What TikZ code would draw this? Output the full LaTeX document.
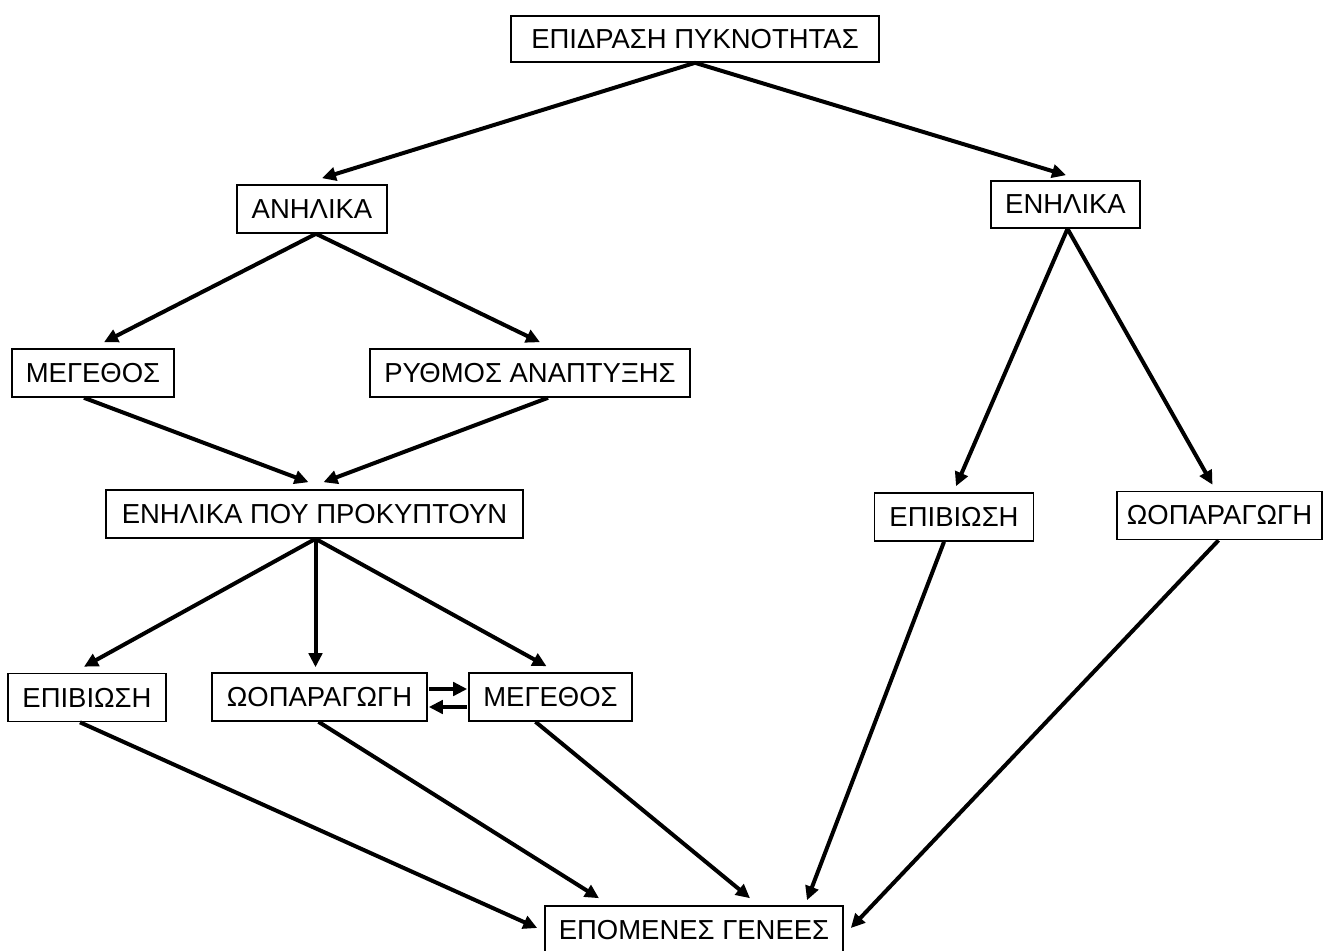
\documentclass[tikz,border=0pt]{standalone}
\usepackage{fontspec}
\setmainfont{Liberation Sans}
\usetikzlibrary{arrows.meta,calc}
\tikzset{
  box/.style={draw=black,line width=1.2pt,fill=white,minimum height=36pt,inner sep=2pt,font=\fontsize{20.6}{24}\selectfont},
  arr/.style={line width=3pt,-{Triangle[length=10.5pt,width=10pt]}},
}
\begin{document}
\begin{tikzpicture}[x=0.75pt,y=-0.75pt]
\clip (0,0) rectangle (1324,950);
\useasboundingbox (0,0) rectangle (1324,950);
\fill[white] (0,0) rectangle (1324,950);
\node[box,minimum width=276pt,minimum height=34.5pt] (top) at (695,39) {ΕΠΙΔΡΑΣΗ ΠΥΚΝΟΤΗΤΑΣ};
\node[box,minimum width=112.5pt] (anh) at (312,209) {ΑΝΗΛΙΚΑ};
\node[box,minimum width=111.75pt,minimum height=35.25pt] (enh) at (1065.5,204.5) {ΕΝΗΛΙΚΑ};
\node[box,minimum width=121.5pt] (meg1) at (93,373) {ΜΕΓΕΘΟΣ};
\node[box,minimum width=240pt] (ryth) at (530,373) {ΡΥΘΜΟΣ ΑΝΑΠΤΥΞΗΣ};
\node[box,minimum width=312.75pt] (enp) at (314.5,514) {ΕΝΗΛΙΚΑ ΠΟΥ ΠΡΟΚΥΠΤΟΥΝ};
\node[box,minimum width=119.25pt] (epiR) at (954,517) {ΕΠΙΒΙΩΣΗ};
\node[box,minimum width=153.75pt] (ooR) at (1219.5,515.5) {ΩΟΠΑΡΑΓΩΓΗ};
\node[box,minimum width=118.5pt] (epiL) at (87,697.5) {ΕΠΙΒΙΩΣΗ};
\node[box,minimum width=161.25pt] (ooM) at (319.5,697) {ΩΟΠΑΡΑΓΩΓΗ};
\node[box,minimum width=122.25pt] (megL) at (550.5,697) {ΜΕΓΕΘΟΣ};
\node[box,minimum width=223.5pt] (epo) at (694,930) {ΕΠΟΜΕΝΕΣ ΓΕΝΕΕΣ};

\draw[arr] (top.south) -- ($(anh.north)+(10,-6)$);
\draw[arr] (top.south) -- ($(enh.north)+(0.5,-5)$);
\draw[arr] ($(anh.south)+(4,0)$) -- ($(meg1.north)+(11,-6)$);
\draw[arr] ($(anh.south)+(4,0)$) -- ($(ryth.north)+(10,-6)$);
\draw[arr] ($(meg1.south)+(-9,0)$) -- ($(enp.north)+(-6,-7)$);
\draw[arr] ($(ryth.south)+(18,0)$) -- ($(enp.north)+(9,-7)$);
\draw[arr] ($(enp.south)+(1,0)$) -- ($(epiL.north)+(-3,-6)$);
\draw[arr] ($(enp.south)+(1,0)$) -- ($(ooM.north)+(-4,-5)$);
\draw[arr] ($(enp.south)+(1,0)$) -- ($(megL.north)+(-4,-6)$);
\draw[arr] ($(enh.south)+(2,0)$) -- ($(epiR.north)+(2,-6)$);
\draw[arr] ($(enh.south)+(2,0)$) -- ($(ooR.north)+(-7,-6)$);
\draw[arr] ($(epiL.south)+(-7,0)$) -- ($(epo.west)+(-7,-2)$);
\draw[arr] ($(ooM.south)+(-1,0)$) -- ($(epo.north)+(-95,-7)$);
\draw[arr] ($(megL.south)+(-15,0)$) -- ($(epo.north)+(56,-7)$);
\draw[arr] ($(epiR.south)+(-10,0)$) -- ($(epo.north)+(113,-5)$);
\draw[arr] ($(ooR.south)+(-1,0)$) -- ($(epo.east)+(7,-2)$);
\draw[arr] ($(ooM.east)+(1,-8)$) -- ($(megL.west)+(-1,-8)$);
\draw[arr] ($(megL.west)+(-1,10)$) -- ($(ooM.east)+(1,10)$);
\end{tikzpicture}
\end{document}
